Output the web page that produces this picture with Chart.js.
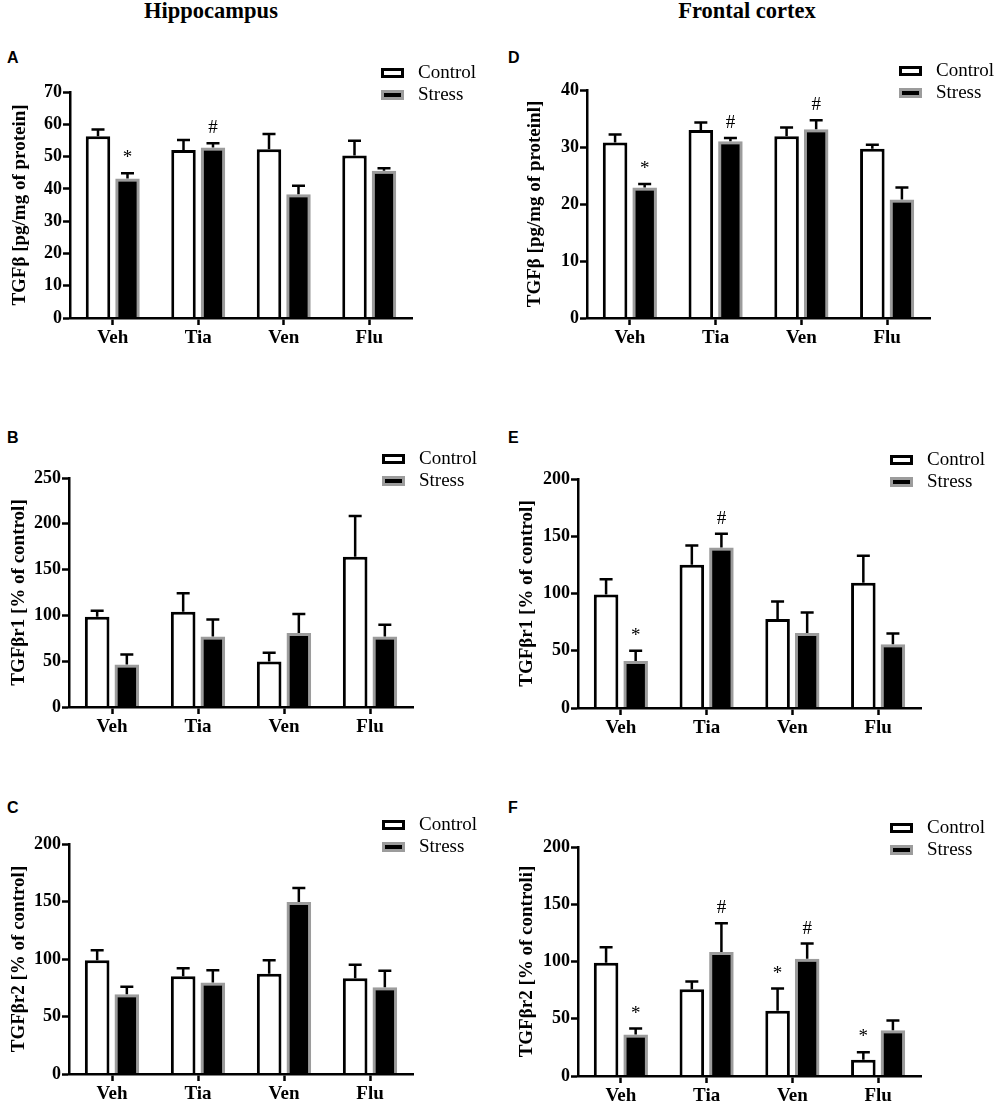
<!DOCTYPE html>
<html>
<head>
<meta charset="utf-8">
<script src="https://cdn.jsdelivr.net/npm/chart.js@4.4.1/dist/chart.umd.min.js"></script>
<style>
    body { margin: 0; background: #fff; width: 1000px; height: 1105px; position: relative; overflow: hidden; }
    canvas { position: absolute; }
    .col-title { position: absolute; width: 300px; text-align: center; font: bold 22.5px "Liberation Serif", serif; line-height: 22.5px; white-space: nowrap; }
    .panel-letter { position: absolute; font: bold 16px "Liberation Sans", Arial, sans-serif; line-height: 16px; }
</style>
</head>
<body>
<div class="col-title" style="left:61px; top:0px;">Hippocampus</div>
<div class="col-title" style="left:597px; top:0px;">Frontal cortex</div>
<div class="panel-letter" style="left:7px; top:50px;">A</div>
<div class="panel-letter" style="left:508px; top:50px;">D</div>
<div class="panel-letter" style="left:7px; top:430px;">B</div>
<div class="panel-letter" style="left:508px; top:430px;">E</div>
<div class="panel-letter" style="left:7px; top:800px;">C</div>
<div class="panel-letter" style="left:508px; top:800px;">F</div>

<script>
const groups = ['Veh', 'Tia', 'Ven', 'Flu'];
const seriesNames = ['Control', 'Stress'];
const noMarks = ['', '', '', ''];

// A - hippocampus, TGFb
const hipTgfControl = [56.3, 52.0, 52.3, 50.3];
const hipTgfControlSem = [2.1, 3.1, 4.7, 4.6];
const hipTgfStress = [43.2, 52.8, 38.3, 45.6];
const hipTgfStressSem = [1.6, 1.3, 2.7, 0.8];
const hipTgfStressMarks = ['*', '#', '', ''];

// B - hippocampus, TGFbr1
const hipR1Control = [98.5, 104.0, 49.6, 163.9];
const hipR1ControlSem = [6.6, 20.1, 9.5, 44.5];
const hipR1Stress = [46.4, 77.0, 80.7, 77.0];
const hipR1StressSem = [10.9, 18.6, 20.8, 12.8];

// C - hippocampus, TGFbr2
const hipR2Control = [99.0, 85.0, 87.1, 83.3];
const hipR2ControlSem = [8.7, 7.0, 11.9, 11.6];
const hipR2Stress = [69.4, 79.5, 149.5, 75.5];
const hipR2StressSem = [6.4, 10.8, 12.2, 14.2];

// D - frontal cortex, TGFb
const fcTgfControl = [30.8, 33.0, 31.9, 29.7];
const fcTgfControlSem = [1.4, 1.3, 1.5, 0.7];
const fcTgfStress = [22.9, 31.0, 33.1, 20.8];
const fcTgfStressSem = [0.6, 0.6, 1.6, 2.1];
const fcTgfStressMarks = ['*', '#', '#', ''];

// E - frontal cortex, TGFbr1
const fcR1Control = [99.1, 125.1, 77.8, 109.3];
const fcR1ControlSem = [13.4, 16.9, 15.2, 23.6];
const fcR1Stress = [41.1, 140.2, 65.6, 55.7];
const fcR1StressSem = [9.0, 12.0, 17.8, 9.3];
const fcR1StressMarks = ['*', '#', '', ''];

// F - frontal cortex, TGFbr2
const fcR2Control = [98.8, 75.8, 56.9, 14.3];
const fcR2ControlSem = [13.7, 6.7, 19.5, 6.4];
const fcR2ControlMarks = ['', '', '*', '*'];
const fcR2Stress = [36.2, 108.2, 102.3, 39.9];
const fcR2StressSem = [5.2, 25.3, 13.4, 8.5];
const fcR2StressMarks = ['*', '#', '#', ''];

const serif = '"Liberation Serif", "Times New Roman", serif';

// upper SEM whiskers + significance marks
const errorBars = {
    id: 'errorBars',
    afterDatasetsDraw(chart) {
        const { ctx } = chart;
        const yScale = chart.scales.y;
        chart.data.datasets.forEach((ds, di) => {
            chart.getDatasetMeta(di).data.forEach((bar, i) => {
                const top = yScale.getPixelForValue(ds.data[i] + ds.errors[i]);
                ctx.save();
                ctx.strokeStyle = '#000';
                ctx.lineWidth = 2.5;
                ctx.beginPath();
                ctx.moveTo(bar.x, bar.y);
                ctx.lineTo(bar.x, top);
                ctx.moveTo(bar.x - 6.5, top);
                ctx.lineTo(bar.x + 6.5, top);
                ctx.stroke();
                if (ds.marks[i]) {
                    ctx.fillStyle = '#000';
                    ctx.font = '19px ' + serif;
                    ctx.textAlign = 'center';
                    ctx.textBaseline = 'alphabetic';
                    ctx.fillText(ds.marks[i], bar.x, top - 10);
                }
                ctx.restore();
            });
        });
    }
};

// legend in the top right corner, like the prism one
const legendBox = {
    id: 'legendBox',
    afterDraw(chart) {
        const { ctx, chartArea } = chart;
        const x = chartArea.right - 31;
        chart.data.datasets.forEach((ds, i) => {
            const y = chartArea.top - 24 + i * 22;
            ctx.save();
            ctx.fillStyle = ds.borderColor;
            ctx.fillRect(x, y, 23, 10);
            ctx.fillStyle = ds.backgroundColor;
            ctx.fillRect(x + 3, y + 3, 17, 4);
            ctx.fillStyle = '#000';
            ctx.font = '19px ' + serif;
            ctx.textAlign = 'left';
            ctx.textBaseline = 'middle';
            ctx.fillText(ds.label, x + 37, y + 5);
            ctx.restore();
        });
    }
};

function makePanel(p) {
    const canvas = document.createElement('canvas');
    canvas.width = 500;
    canvas.height = p.h;
    canvas.style.left = p.cx + 'px';
    canvas.style.top = p.cy + 'px';
    document.body.appendChild(canvas);

    const a = p.area;

    new Chart(canvas, {
        type: 'bar',
        data: {
            labels: groups,
            datasets: [
                {
                    label: seriesNames[0],
                    data: p.control,
                    errors: p.controlSem,
                    marks: p.controlMarks || noMarks,
                    backgroundColor: '#ffffff',
                    borderColor: '#000000',
                    borderWidth: 3,
                    categoryPercentage: 0.69,
                    barPercentage: 0.83,
                },
                {
                    label: seriesNames[1],
                    data: p.stress,
                    errors: p.stressSem,
                    marks: p.stressMarks || noMarks,
                    backgroundColor: '#000000',
                    borderColor: '#9c9c9c',
                    borderWidth: 3,
                    categoryPercentage: 0.69,
                    barPercentage: 0.83,
                },
            ],
        },
        options: {
            responsive: false,
            animation: false,
            layout: {
                padding: { left: 0, top: a.top - p.cy, right: p.cx + 500 - a.right, bottom: 0 }
            },
            plugins: { legend: { display: false }, tooltip: { enabled: false } },
            scales: {
                x: {
                    border: { display: true, color: '#000', width: 2.5, z: 1 },
                    grid: { display: true, drawOnChartArea: false, offset: false, color: '#000', tickLength: 7, tickWidth: 2.5 },
                    ticks: { color: '#000', padding: 2, font: { family: serif, size: 19, weight: 'bold' } },
                    afterFit: s => { s.height = p.cy + p.h - a.bottom; },
                },
                y: {
                    min: 0,
                    max: p.max,
                    border: { display: true, color: '#000', width: 2.5 },
                    grid: { display: true, drawOnChartArea: false, color: '#000', tickLength: 7, tickWidth: 2.5 },
                    ticks: { color: '#000', stepSize: p.step, padding: 1, font: { family: serif, size: 18, weight: 'bold' } },
                    title: {
                        display: true,
                        text: p.title,
                        color: '#000',
                        font: { family: serif, size: 19, weight: 'bold' },
                        padding: { top: p.titleX - 11.4, bottom: 0 },
                    },
                    afterFit: s => { s.width = a.left - p.cx; },
                },
            },
        },
        plugins: [errorBars, legendBox],
    });
}

function buildAll() {
    makePanel({
        cx: 0, cy: 40, h: 330, area: { left: 70, right: 412, top: 92, bottom: 318 },
        max: 70, step: 10, title: 'TGFβ [pg/mg of protein]', titleX: 20,
        control: hipTgfControl, controlSem: hipTgfControlSem,
        stress: hipTgfStress, stressSem: hipTgfStressSem, stressMarks: hipTgfStressMarks,
    });
    makePanel({
        cx: 500, cy: 40, h: 330, area: { left: 587, right: 930, top: 90, bottom: 318 },
        max: 40, step: 10, title: 'TGFβ [pg/mg of proteinl]', titleX: 35.5,
        control: fcTgfControl, controlSem: fcTgfControlSem,
        stress: fcTgfStress, stressSem: fcTgfStressSem, stressMarks: fcTgfStressMarks,
    });
    makePanel({
        cx: 0, cy: 420, h: 330, area: { left: 69, right: 413, top: 478, bottom: 707 },
        max: 250, step: 50, title: 'TGFβr1 [% of control]', titleX: 19.5,
        control: hipR1Control, controlSem: hipR1ControlSem,
        stress: hipR1Stress, stressSem: hipR1StressSem,
    });
    makePanel({
        cx: 500, cy: 420, h: 330, area: { left: 578, right: 921, top: 479, bottom: 708 },
        max: 200, step: 50, title: 'TGFβr1 [% of control]', titleX: 27.5,
        control: fcR1Control, controlSem: fcR1ControlSem,
        stress: fcR1Stress, stressSem: fcR1StressSem, stressMarks: fcR1StressMarks,
    });
    makePanel({
        cx: 0, cy: 790, h: 315, area: { left: 69, right: 413, top: 844, bottom: 1074 },
        max: 200, step: 50, title: 'TGFβr2 [% of control]', titleX: 19.5,
        control: hipR2Control, controlSem: hipR2ControlSem,
        stress: hipR2Stress, stressSem: hipR2StressSem,
    });
    makePanel({
        cx: 500, cy: 790, h: 315, area: { left: 578, right: 921, top: 847, bottom: 1076 },
        max: 200, step: 50, title: 'TGFβr2 [% of controli]', titleX: 27.5,
        control: fcR2Control, controlSem: fcR2ControlSem, controlMarks: fcR2ControlMarks,
        stress: fcR2Stress, stressSem: fcR2StressSem, stressMarks: fcR2StressMarks,
    });
}

// make sure the serif face is ready before the canvases draw text
Promise.all([
    document.fonts.load('19px "Liberation Serif"'),
    document.fonts.load('bold 19px "Liberation Serif"'),
]).catch(() => {}).then(buildAll);
</script>
</body>
</html>
